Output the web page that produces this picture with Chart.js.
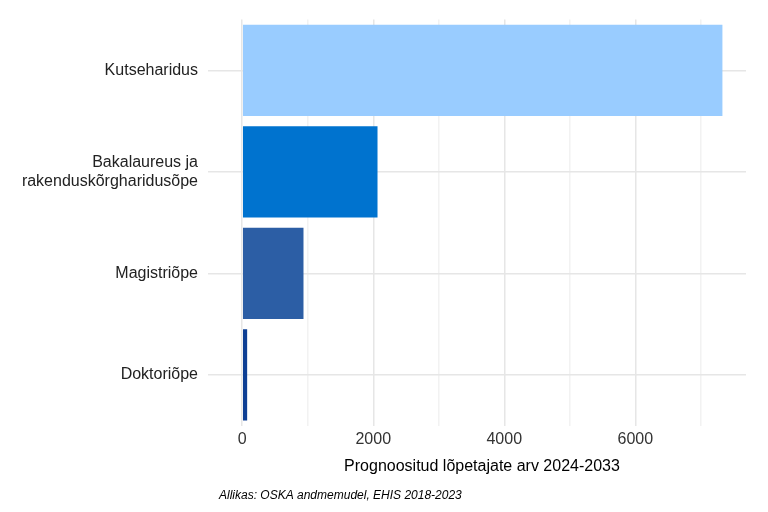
<!DOCTYPE html><html><head><meta charset="utf-8">
<script src="https://cdn.jsdelivr.net/npm/chart.js@4"></script>
<style>body{margin:0;background:#fff}#w{width:768px;height:512px;position:relative}</style></head><body>
<div id="w"><canvas id="c"></canvas></div>
<script>
const categories=[["Kutseharidus"],["Bakalaureus ja","rakenduskõrgharidusõpe"],["Magistriõpe"],["Doktoriõpe"]];
const values=[7330,2065,935,75];
const colors=["#99ccff","#0073cf","#2c5ea5","#0d3f94"];
const caption="Allikas: OSKA andmemudel, EHIS 2018-2023";
const xTitle="Prognoositud lõpetajate arv 2024-2033";
const capPlugin={id:'cap',afterDraw(ch){const x=ch.ctx;x.save();x.font='italic 12px "Liberation Sans"';x.fillStyle='#000';x.textBaseline='middle';x.fillText(caption,219,496);x.restore();}};
new Chart(document.getElementById('c'),{type:'bar',
data:{labels:categories,datasets:[{data:values,backgroundColor:colors,barPercentage:0.9,categoryPercentage:1}]},
options:{indexAxis:'y',responsive:true,maintainAspectRatio:false,animation:false,
layout:{padding:{left:0,right:22,top:17,bottom:32}},
plugins:{legend:{display:false},tooltip:{enabled:false}},
scales:{
x:{min:-370,max:7690,border:{display:false},
 afterBuildTicks(s){s.ticks=[0,1000,2000,3000,4000,5000,6000,7000].map(v=>({value:v}));},
 ticks:{color:'#333',font:{family:'Liberation Sans',size:16},padding:4,callback:v=>v%2000===0?String(v):''},
 grid:{color:c=>c.tick&&c.tick.value%2000===0?'#e6e6e6':'#f2f2f2',lineWidth:1.5,drawTicks:false},
 title:{display:true,text:xTitle,color:'#000',font:{family:'Liberation Sans',size:16},padding:{top:4}}},
y:{border:{display:false},afterFit(s){s.width=218;},
 ticks:{color:'#222',font:{family:'Liberation Sans',size:16},padding:10},
 grid:{offset:false,color:'#e6e6e6',lineWidth:1.5,tickLength:10,tickColor:'#e6e6e6'}}}},
plugins:[capPlugin]});
</script></body></html>
